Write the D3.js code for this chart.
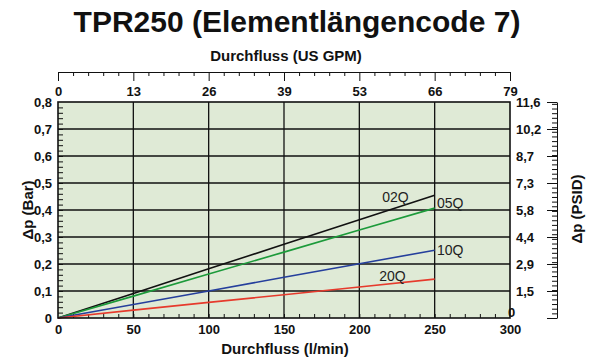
<!DOCTYPE html>
<html>
<head>
<meta charset="utf-8">
<script src="https://cdn.jsdelivr.net/npm/d3@7"></script>
<style>
  body { margin: 0; background: #fff; }
  svg { display: block; font-family: "Liberation Sans", Arial, Helvetica, sans-serif; }
</style>
</head>
<body>
<div id="chart"></div>
<script>
// flow in l/min, dp in bar
const flow = [0, 50, 100, 150, 200, 250];
const dp02Q = [0, 0.091, 0.182, 0.273, 0.364, 0.455];
const dp05Q = [0, 0.081, 0.163, 0.244, 0.326, 0.407];
const dp10Q = [0, 0.050, 0.100, 0.151, 0.201, 0.251];
const dp20Q = [0, 0.029, 0.058, 0.086, 0.115, 0.144];

const flowTicks = [0, 50, 100, 150, 200, 250, 300];
const gpmLabels = ['0', '13', '26', '39', '53', '66', '79'];
const barTicks = [0, 0.1, 0.2, 0.3, 0.4, 0.5, 0.6, 0.7, 0.8];
const barLabels = ['0', '0,1', '0,2', '0,3', '0,4', '0,5', '0,6', '0,7', '0,8'];
const psiLabels = ['0', '1,5', '2,9', '4,4', '5,8', '7,3', '8,7', '10,2', '11,6'];

const WIDTH = 591;
const HEIGHT = 358;
const PLOT_LEFT = 58;
const PLOT_RIGHT = 510;
const PLOT_TOP = 102;
const PLOT_BOTTOM = 318;
const RIGHT_AXIS_X = 557;
const TOP_AXIS_Y = 72;

const series = [
  { name: '02Q', values: dp02Q, color: '#111111', label: [224, 0.431, 'middle'] },
  { name: '05Q', values: dp05Q, color: '#1c9a3a', label: [251.5, 0.407, 'start'] },
  { name: '10Q', values: dp10Q, color: '#253f9c', label: [251.5, 0.233, 'start'] },
  { name: '20Q', values: dp20Q, color: '#e63a2c', label: [222, 0.137, 'middle'] }
];

const svg = d3.select('#chart')
  .append('svg')
  .attr('width', WIDTH)
  .attr('height', HEIGHT);

const x = d3.scaleLinear().domain([0, 300]).range([PLOT_LEFT, PLOT_RIGHT]);
const y = d3.scaleLinear().domain([0, 0.8]).range([PLOT_BOTTOM, PLOT_TOP]);
const yPsi = d3.scaleLinear().domain([0, 11.6]).range([PLOT_BOTTOM, PLOT_TOP]);

const styleAxis = (g, size) => {
  g.attr('font-family', null).attr('font-size', null);
  g.selectAll('text')
    .style('font-size', size + 'px')
    .style('font-weight', 'bold')
    .attr('fill', '#111');
  g.selectAll('line').attr('stroke', '#111');
  g.selectAll('path.domain').attr('stroke', '#111');
};

// title
svg.append('text')
  .attr('x', 297)
  .attr('y', 32)
  .attr('text-anchor', 'middle')
  .style('font-size', '30px')
  .style('font-weight', 'bold')
  .attr('fill', '#111')
  .text('TPR250 (Elementlängencode 7)');

// plot background
svg.append('rect')
  .attr('x', x(0))
  .attr('y', y(0.8))
  .attr('width', x(300) - x(0))
  .attr('height', y(0) - y(0.8))
  .attr('fill', '#dfead6');

// grid
const grid = svg.append('g').attr('stroke', '#111').attr('stroke-width', 1.3);
grid.selectAll('line.v')
  .data(flowTicks.slice(1, -1))
  .enter().append('line')
  .attr('x1', d => x(d)).attr('x2', d => x(d))
  .attr('y1', y(0)).attr('y2', y(0.8));
grid.selectAll('line.h')
  .data(barTicks.slice(1, -1))
  .enter().append('line')
  .attr('x1', x(0)).attr('x2', x(300))
  .attr('y1', d => y(d)).attr('y2', d => y(d));

// inner minor ticks
svg.append('g')
  .attr('transform', `translate(0,${PLOT_BOTTOM})`)
  .call(d3.axisTop(x).tickValues(d3.range(10, 300, 10)).tickSize(4).tickFormat(''))
  .call(g => g.select('.domain').remove())
  .call(g => styleAxis(g, 13));

svg.append('g')
  .attr('transform', `translate(${PLOT_LEFT},0)`)
  .call(d3.axisRight(y).tickValues(d3.range(1, 40).map(i => i * 0.02)).tickSize(5).tickFormat(''))
  .call(g => g.select('.domain').remove())
  .call(g => styleAxis(g, 13));

// lines
const line = d3.line()
  .x((d, i) => x(flow[i]))
  .y(d => y(d));

svg.append('g')
  .selectAll('path')
  .data(series)
  .enter().append('path')
  .attr('d', d => line(d.values))
  .attr('fill', 'none')
  .attr('stroke', d => d.color)
  .attr('stroke-width', 1.6);

svg.append('g')
  .selectAll('text')
  .data(series)
  .enter().append('text')
  .attr('x', d => x(d.label[0]))
  .attr('y', d => y(d.label[1]))
  .attr('text-anchor', d => d.label[2])
  .style('font-size', '14px')
  .attr('fill', '#222')
  .text(d => d.name);

// plot border
svg.append('rect')
  .attr('x', x(0))
  .attr('y', y(0.8))
  .attr('width', x(300) - x(0))
  .attr('height', y(0) - y(0.8))
  .attr('fill', 'none')
  .attr('stroke', '#111')
  .attr('stroke-width', 1.6);

// bottom axis labels
svg.append('g')
  .attr('transform', `translate(0,${PLOT_BOTTOM})`)
  .call(d3.axisBottom(x).tickValues(flowTicks).tickSize(0).tickPadding(7))
  .call(g => g.select('.domain').remove())
  .call(g => styleAxis(g, 13));

// left axis labels
svg.append('g')
  .attr('transform', `translate(${PLOT_LEFT},0)`)
  .call(d3.axisLeft(y).tickValues(barTicks).tickSize(0).tickPadding(6).tickFormat((d, i) => barLabels[i]))
  .call(g => g.select('.domain').remove())
  .call(g => styleAxis(g, 13));

// top axis (US GPM)
svg.append('g')
  .attr('transform', `translate(0,${TOP_AXIS_Y})`)
  .call(d3.axisBottom(x).tickValues(d3.range(10, 300, 10).filter(d => d % 50 !== 0)).tickSize(4).tickSizeOuter(0).tickFormat(''))
  .call(g => styleAxis(g, 13));

svg.append('g')
  .attr('transform', `translate(0,${TOP_AXIS_Y})`)
  .call(d3.axisBottom(x).tickValues(flowTicks).tickSize(9).tickPadding(6).tickFormat((d, i) => gpmLabels[i]))
  .call(g => g.select('.domain').remove())
  .call(g => styleAxis(g, 13));

// right axis (PSID)
svg.append('g')
  .attr('transform', `translate(${RIGHT_AXIS_X},0)`)
  .call(d3.axisLeft(yPsi).tickValues(d3.range(1, 47).map(i => i * 0.25)).tickSize(5).tickSizeOuter(0).tickFormat(''))
  .call(g => styleAxis(g, 13));

svg.append('g')
  .attr('transform', `translate(${RIGHT_AXIS_X},0)`)
  .call(d3.axisLeft(y).tickValues(barTicks).tickSize(10).tickFormat((d, i) => psiLabels[i]))
  .call(g => g.select('.domain').remove())
  .call(g => styleAxis(g, 13))
  .call(g => g.selectAll('text')
    .attr('text-anchor', 'start')
    .attr('x', d => d === 0 ? 508 - RIGHT_AXIS_X : 516 - RIGHT_AXIS_X)
    .attr('dy', d => d === 0 ? '-0.15em' : '0.32em'));

// axis titles
svg.append('text')
  .attr('x', 286)
  .attr('y', 61)
  .attr('text-anchor', 'middle')
  .style('font-size', '15px')
  .style('font-weight', 'bold')
  .attr('fill', '#111')
  .text('Durchfluss (US GPM)');

svg.append('text')
  .attr('x', 285)
  .attr('y', 354)
  .attr('text-anchor', 'middle')
  .style('font-size', '15px')
  .style('font-weight', 'bold')
  .attr('fill', '#111')
  .text('Durchfluss (l/min)');

svg.append('text')
  .attr('transform', 'translate(33,210) rotate(-90)')
  .attr('text-anchor', 'middle')
  .style('font-size', '15px')
  .style('font-weight', 'bold')
  .attr('fill', '#111')
  .text('Δp (Bar)');

svg.append('text')
  .attr('transform', 'translate(582,209) rotate(-90)')
  .attr('text-anchor', 'middle')
  .style('font-size', '15px')
  .style('font-weight', 'bold')
  .attr('fill', '#111')
  .text('Δp (PSID)');
</script>
</body>
</html>
